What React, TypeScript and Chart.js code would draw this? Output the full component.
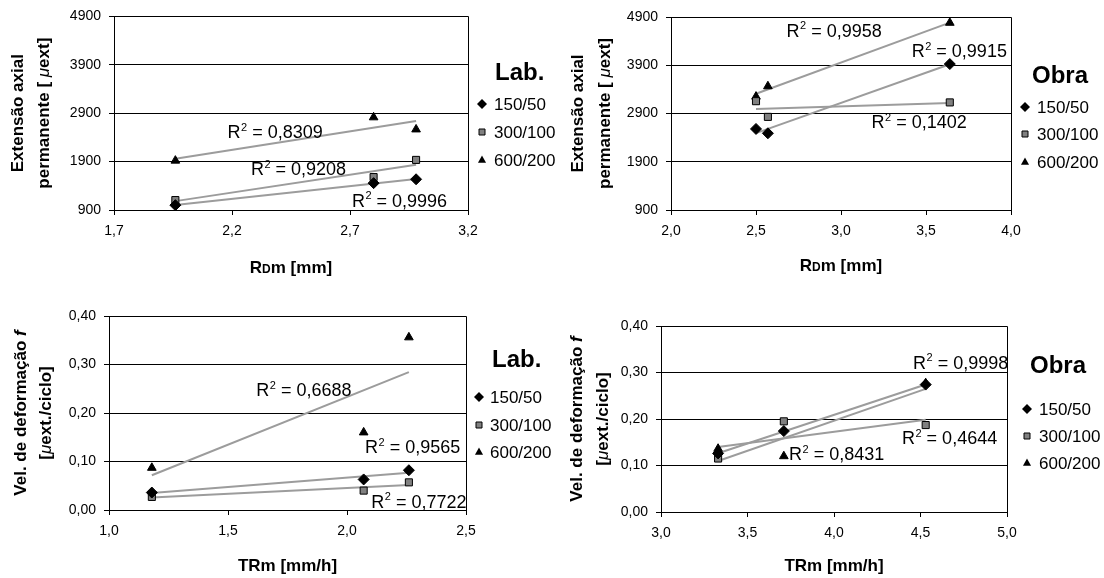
import React, { useEffect, useRef } from 'react';
import { Chart, registerables } from 'chart.js';

Chart.register(...registerables);

const FONT = 'Arial, "Liberation Sans", sans-serif';

// ---------- data ----------
const seriesNames = ['150/50', '300/100', '600/200'];

// Top-left: Lab., RDm vs extensão axial permanente
const labRdX = [1.96, 2.8, 2.98];
const labRd150 = [1000, 1455, 1535];
const labRd300 = [1105, 1580, 1935];
const labRd600 = [1920, 2815, 2565];
const labRdR2 = ['0,9996', '0,9208', '0,8309'];

// Top-right: Obra, RDm vs extensão axial permanente
const obraRdX = [2.5, 2.57, 3.64];
const obraRd150 = [2580, 2490, 3925];
const obraRd300 = [3155, 2830, 3130];
const obraRd600 = [3250, 3465, 4780];
const obraRdR2 = ['0,9915', '0,1402', '0,9958'];

// Bottom-left: Lab., TRm vs velocidade de deformação
const labTrX = [1.18, 2.07, 2.26];
const labTr150 = [0.036, 0.063, 0.082];
const labTr300 = [0.027, 0.04, 0.057];
const labTr600 = [0.087, 0.16, 0.356];
const labTrR2 = ['0,9565', '0,7722', '0,6688'];

// Bottom-right: Obra, TRm vs velocidade de deformação
const obraTrX = [3.33, 3.71, 4.53];
const obraTr150 = [0.126, 0.174, 0.274];
const obraTr300 = [0.115, 0.195, 0.187];
const obraTr600 = [0.136, 0.12, 0.277];
const obraTrR2 = ['0,9998', '0,4644', '0,8431'];

// axis texts (runs: text + style)
type Run = { t: string; s: 'b' | 'bs' | 'i' | 'bi' };
const rdTitle: Run[] = [{ t: 'R', s: 'b' }, { t: 'D', s: 'bs' }, { t: 'm [mm]', s: 'b' }];
const trTitle: Run[] = [{ t: 'TRm [mm/h]', s: 'b' }];
const extTitle: Run[][] = [
  [{ t: 'Extensão axial', s: 'b' }],
  [{ t: 'permanente [ ', s: 'b' }, { t: 'μ', s: 'i' }, { t: 'ext]', s: 'b' }],
];
const velTitle: Run[][] = [
  [{ t: 'Vel. de deformação ', s: 'b' }, { t: 'f', s: 'bi' }],
  [{ t: '[', s: 'b' }, { t: 'μ', s: 'i' }, { t: 'ext./ciclo]', s: 'b' }],
];

// ---------- layout / style ----------
const H = 289;

type Panel = {
  id: string;
  left: number;
  top: number;
  w: number;
  plot: { l: number; t: number; r: number; b: number };
  x: { min: number; max: number; step: number; dec: number; title: Run[]; titleY: number };
  y: { min: number; max: number; step: number; dec: number; title: Run[][]; titleX: number[] };
  xs: number[];
  series: number[][];
  r2: string[];
  r2Pos: [number, number][];
  legendTitle: string;
  legend: { titleX: number; titleY: number; markerX: number; textX: number; ys: number[] };
};

const panels: Panel[] = [
  {
    id: 'tl', left: 0, top: 0, w: 560,
    plot: { l: 114, t: 14, r: 468, b: 210 },
    x: { min: 1.7, max: 3.2, step: 0.5, dec: 1, title: rdTitle, titleY: 267 },
    y: { min: 900, max: 4900, step: 1000, dec: 0, title: extTitle, titleX: [17, 43] },
    xs: labRdX, series: [labRd150, labRd300, labRd600], r2: labRdR2,
    r2Pos: [[2.708, 967], [2.28, 1614], [2.181, 2384]],
    legendTitle: 'Lab.',
    legend: { titleX: 495, titleY: 80, markerX: 482, textX: 494, ys: [104, 132, 160] },
  },
  {
    id: 'tr', left: 560, top: 0, w: 544,
    plot: { l: 111, t: 17, r: 451, b: 210 },
    x: { min: 2.0, max: 4.0, step: 0.5, dec: 1, title: rdTitle, titleY: 265 },
    y: { min: 900, max: 4900, step: 1000, dec: 0, title: extTitle, titleX: [17, 44] },
    xs: obraRdX, series: [obraRd150, obraRd300, obraRd600], r2: obraRdR2,
    r2Pos: [[3.416, 4065], [3.18, 2593], [2.68, 4492]],
    legendTitle: 'Obra',
    legend: { titleX: 472, titleY: 83, markerX: 465, textX: 477, ys: [107, 134, 162] },
  },
  {
    id: 'bl', left: 0, top: 289, w: 560,
    plot: { l: 109, t: 27, r: 466, b: 221 },
    x: { min: 1.0, max: 2.5, step: 0.5, dec: 1, title: trTitle, titleY: 276 },
    y: { min: 0, max: 0.4, step: 0.1, dec: 2, title: velTitle, titleX: [20, 45] },
    xs: labTrX, series: [labTr150, labTr300, labTr600], r2: labTrR2,
    r2Pos: [[2.076, 0.117], [2.102, 0.005], [1.619, 0.235]],
    legendTitle: 'Lab.',
    legend: { titleX: 492, titleY: 78, markerX: 479, textX: 490, ys: [108, 136, 163] },
  },
  {
    id: 'br', left: 560, top: 289, w: 544,
    plot: { l: 101, t: 37, r: 447, b: 223 },
    x: { min: 3.0, max: 5.0, step: 0.5, dec: 1, title: trTitle, titleY: 276 },
    y: { min: 0, max: 0.4, step: 0.1, dec: 2, title: velTitle, titleX: [16, 42] },
    xs: obraTrX, series: [obraTr150, obraTr300, obraTr600], r2: obraTrR2,
    r2Pos: [[4.457, 0.308], [4.393, 0.1455], [3.74, 0.111]],
    legendTitle: 'Obra',
    legend: { titleX: 470, titleY: 84, markerX: 467, textX: 479, ys: [120, 147, 174] },
  },
];

const markerStyles = [
  { style: 'rectRot', radius: 5.5, fill: '#000000' },
  { style: 'rect', radius: 5, fill: '#808080' },
  { style: 'triangle', radius: 5, fill: '#000000' },
];
const legendRadius = [5, 4, 4.5];
const trendColor = '#9c9c9c';

const runFont = (s: Run['s']) => {
  if (s === 'b') return `bold 17px ${FONT}`;
  if (s === 'bs') return `bold 12px ${FONT}`;
  if (s === 'i') return `italic 17px ${FONT}`;
  return `bold italic 17px ${FONT}`;
};

const fmt = (v: number, dec: number) => Number(v).toFixed(dec).replace('.', ',');

function trend(xs: number[], ys: number[]) {
  const n = xs.length;
  const mx = xs.reduce((a, b) => a + b, 0) / n;
  const my = ys.reduce((a, b) => a + b, 0) / n;
  let sxy = 0;
  let sxx = 0;
  for (let i = 0; i < n; i++) {
    sxy += (xs[i] - mx) * (ys[i] - my);
    sxx += (xs[i] - mx) * (xs[i] - mx);
  }
  const b = sxy / sxx;
  const a = my - b * mx;
  const x0 = Math.min(...xs);
  const x1 = Math.max(...xs);
  return [{ x: x0, y: a + b * x0 }, { x: x1, y: a + b * x1 }];
}

function drawRuns(ctx: CanvasRenderingContext2D, runs: Run[], cx: number, baseline: number) {
  let total = 0;
  const widths = runs.map((r) => {
    ctx.font = runFont(r.s);
    const w = ctx.measureText(r.t).width;
    total += w;
    return w;
  });
  let x = cx - total / 2;
  runs.forEach((r, i) => {
    ctx.font = runFont(r.s);
    ctx.fillText(r.t, x, baseline);
    x += widths[i];
  });
}

function drawMarker(ctx: CanvasRenderingContext2D, kind: number, x: number, y: number, r: number) {
  ctx.save();
  ctx.beginPath();
  if (kind === 0) {
    ctx.moveTo(x, y - r);
    ctx.lineTo(x + r, y);
    ctx.lineTo(x, y + r);
    ctx.lineTo(x - r, y);
    ctx.closePath();
    ctx.fillStyle = '#000';
    ctx.fill();
  } else if (kind === 1) {
    const s = r * 0.75;
    ctx.rect(x - s, y - s, 2 * s, 2 * s);
    ctx.fillStyle = '#808080';
    ctx.fill();
    ctx.strokeStyle = '#000';
    ctx.lineWidth = 1;
    ctx.stroke();
  } else {
    ctx.moveTo(x, y - r);
    ctx.lineTo(x + r * 0.9, y + r * 0.6);
    ctx.lineTo(x - r * 0.9, y + r * 0.6);
    ctx.closePath();
    ctx.fillStyle = '#000';
    ctx.fill();
  }
  ctx.restore();
}

function makeChart(canvas: HTMLCanvasElement, p: Panel) {
  const scatterSets = p.series.map((ys, i) => ({
    label: seriesNames[i],
    data: p.xs.map((x, k) => ({ x, y: ys[k] })),
    showLine: false,
    pointStyle: markerStyles[i].style,
    pointRadius: markerStyles[i].radius,
    pointHoverRadius: markerStyles[i].radius,
    pointBackgroundColor: markerStyles[i].fill,
    pointBorderColor: '#000',
    pointBorderWidth: 1,
    backgroundColor: markerStyles[i].fill,
    borderColor: '#000',
    order: 0,
  }));
  const trendSets = p.series.map((ys, i) => ({
    label: 'trend ' + seriesNames[i],
    data: trend(p.xs, ys),
    showLine: true,
    pointRadius: 0,
    pointHoverRadius: 0,
    borderColor: trendColor,
    borderWidth: 2,
    fill: false,
    order: 1,
  }));

  const framePlugin = {
    id: 'frame' + p.id,
    beforeDatasetsDraw(chart: any) {
      const { ctx, chartArea: a } = chart;
      ctx.save();
      ctx.strokeStyle = '#000';
      ctx.lineWidth = 1;
      const l = Math.round(a.left) + 0.5;
      const t = Math.round(a.top) + 0.5;
      const r = Math.round(a.right) + 0.5;
      const b = Math.round(a.bottom) + 0.5;
      ctx.beginPath();
      ctx.moveTo(l, t);
      ctx.lineTo(r, t);
      ctx.lineTo(r, b);
      ctx.stroke();
      ctx.restore();
    },
  };

  const r2Plugin = {
    id: 'r2' + p.id,
    afterDatasetsDraw(chart: any) {
      const { ctx } = chart;
      const xs = chart.scales.x;
      const ys = chart.scales.y;
      ctx.save();
      ctx.fillStyle = '#000';
      ctx.textBaseline = 'alphabetic';
      ctx.textAlign = 'left';
      p.r2.forEach((val, i) => {
        const px = xs.getPixelForValue(p.r2Pos[i][0]);
        const py = ys.getPixelForValue(p.r2Pos[i][1]);
        ctx.font = `18px ${FONT}`;
        ctx.fillText('R', px, py);
        const w1 = ctx.measureText('R').width;
        ctx.font = `11px ${FONT}`;
        ctx.fillText('2', px + w1 + 0.5, py - 7.5);
        const w2 = ctx.measureText('2').width;
        ctx.font = `18px ${FONT}`;
        ctx.fillText(' = ' + val, px + w1 + w2 + 0.5, py);
      });
      ctx.restore();
    },
  };

  const textPlugin = {
    id: 'txt' + p.id,
    afterDraw(chart: any) {
      const { ctx, chartArea: a } = chart;
      const L = p.legend;
      ctx.save();
      ctx.fillStyle = '#000';
      ctx.textAlign = 'left';
      ctx.textBaseline = 'alphabetic';
      // legend
      ctx.font = `bold 24px ${FONT}`;
      ctx.fillText(p.legendTitle, L.titleX, L.titleY);
      seriesNames.forEach((name, i) => {
        drawMarker(ctx, i, L.markerX, L.ys[i], legendRadius[i]);
        ctx.fillStyle = '#000';
        ctx.font = `17px ${FONT}`;
        ctx.textBaseline = 'middle';
        ctx.fillText(name, L.textX, L.ys[i] + 1);
      });
      ctx.textBaseline = 'alphabetic';
      // x title
      drawRuns(ctx, p.x.title, (a.left + a.right) / 2, p.x.titleY + 6);
      // y title (rotated)
      const cy = (a.top + a.bottom) / 2;
      p.y.title.forEach((line, i) => {
        ctx.save();
        ctx.translate(p.y.titleX[i], cy);
        ctx.rotate(-Math.PI / 2);
        drawRuns(ctx, line, 0, 6);
        ctx.restore();
      });
      ctx.restore();
    },
  };

  return new Chart(canvas, {
    type: 'scatter',
    data: { datasets: [...scatterSets, ...trendSets] as any },
    options: {
      responsive: false,
      animation: false,
      devicePixelRatio: 1,
      layout: { padding: { left: 0, top: p.plot.t, right: p.w - p.plot.r, bottom: 0 } },
      plugins: { legend: { display: false }, tooltip: { enabled: false } },
      scales: {
        x: {
          type: 'linear',
          min: p.x.min,
          max: p.x.max,
          afterFit: (s: any) => { s.height = H - p.plot.b; },
          ticks: {
            stepSize: p.x.step,
            autoSkip: false,
            maxRotation: 0,
            padding: 8,
            color: '#000',
            font: { family: FONT, size: 14 },
            callback: (v: any) => fmt(Number(v), p.x.dec),
          },
          grid: { drawOnChartArea: false, drawTicks: true, tickLength: 5, color: '#000', lineWidth: 1 },
          border: { display: true, color: '#000', width: 1 },
          title: { display: false },
        },
        y: {
          type: 'linear',
          min: p.y.min,
          max: p.y.max,
          afterFit: (s: any) => { s.width = p.plot.l; },
          ticks: {
            stepSize: p.y.step,
            autoSkip: false,
            padding: 8,
            color: '#000',
            font: { family: FONT, size: 14 },
            callback: (v: any) => fmt(Number(v), p.y.dec),
          },
          grid: { drawOnChartArea: true, drawTicks: true, tickLength: 5, color: '#000', lineWidth: 1 },
          border: { display: true, color: '#000', width: 1 },
          title: { display: false },
        },
      },
    } as any,
    plugins: [framePlugin, r2Plugin, textPlugin],
  });
}

export default function App() {
  const refs = useRef<(HTMLCanvasElement | null)[]>([]);
  useEffect(() => {
    document.body.style.margin = '0';
    const charts = panels.map((p, i) => makeChart(refs.current[i] as HTMLCanvasElement, p));
    return () => charts.forEach((c) => c.destroy());
  }, []);
  return (
    <div style={{ position: 'relative', width: 1104, height: 578, background: '#fff', overflow: 'hidden' }}>
      {panels.map((p, i) => (
        <canvas
          key={p.id}
          ref={(el) => { refs.current[i] = el; }}
          width={p.w}
          height={H}
          style={{ position: 'absolute', left: p.left, top: p.top, width: p.w, height: H }}
        />
      ))}
    </div>
  );
}
